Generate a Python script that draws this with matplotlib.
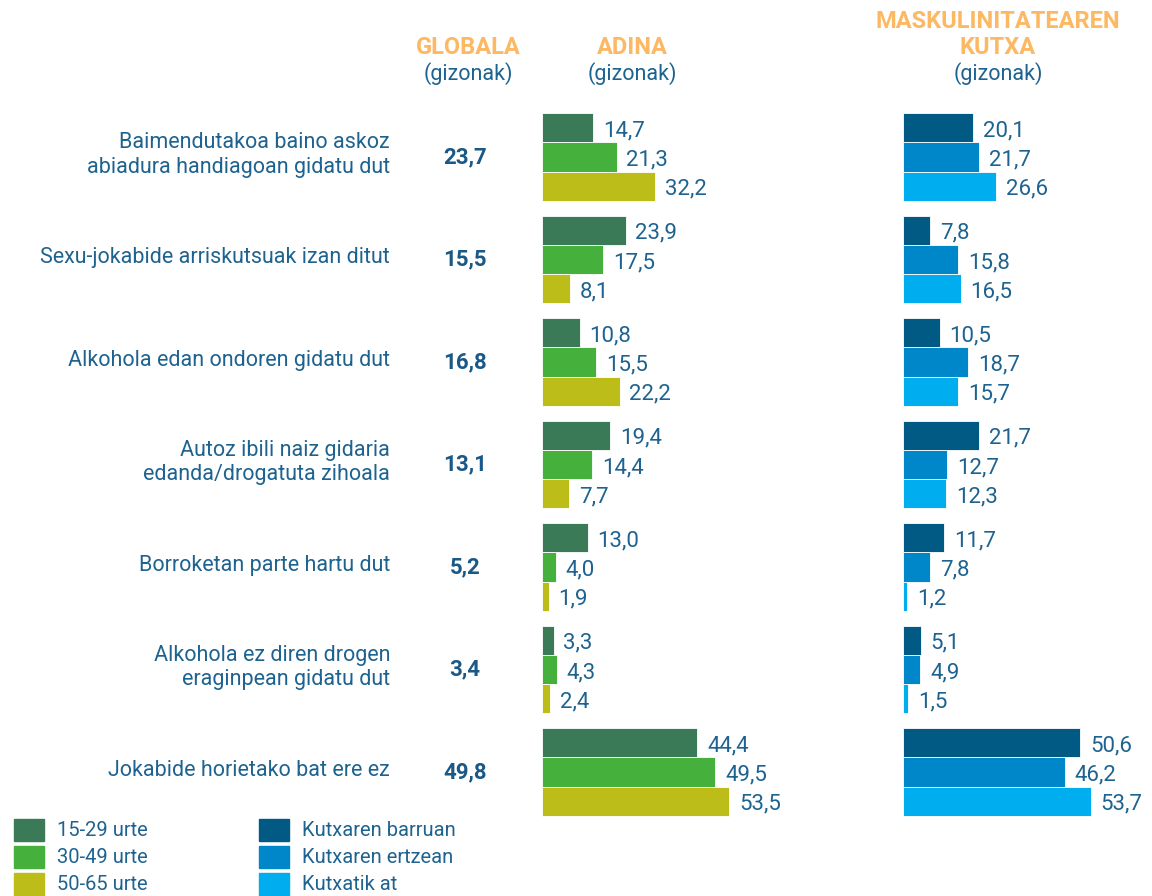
import matplotlib
matplotlib.use("Agg")
import matplotlib.pyplot as plt
from matplotlib.patches import Rectangle

categories = [
    "Baimendutakoa baino askoz\nabiadura handiagoan gidatu dut",
    "Sexu-jokabide arriskutsuak izan ditut",
    "Alkohola edan ondoren gidatu dut",
    "Autoz ibili naiz gidaria\nedanda/drogatuta zihoala",
    "Borroketan parte hartu dut",
    "Alkohola ez diren drogen\neraginpean gidatu dut",
    "Jokabide horietako bat ere ez",
]
globala = [23.7, 15.5, 16.8, 13.1, 5.2, 3.4, 49.8]

age_labels = ["15-29 urte", "30-49 urte", "50-65 urte"]
age_15_29 = [14.7, 23.9, 10.8, 19.4, 13.0, 3.3, 44.4]
age_30_49 = [21.3, 17.5, 15.5, 14.4, 4.0, 4.3, 49.5]
age_50_65 = [32.2, 8.1, 22.2, 7.7, 1.9, 2.4, 53.5]

box_labels = ["Kutxaren barruan", "Kutxaren ertzean", "Kutxatik at"]
box_in = [20.1, 7.8, 10.5, 21.7, 11.7, 5.1, 50.6]
box_edge = [21.7, 15.8, 18.7, 12.7, 7.8, 4.9, 46.2]
box_out = [26.6, 16.5, 15.7, 12.3, 1.2, 1.5, 53.7]

age_colors = ["#3B7A57", "#45B03C", "#BDBD19"]
box_colors = ["#005A84", "#0087C9", "#00AEEF"]
text_color = "#1E6390"
bold_color = "#1A5886"
head_color = "#FDB863"

FONT = ["Roboto", "DejaVu Sans"]
plt.rcParams["font.family"] = FONT

W, H = 1152, 896
fig = plt.figure(figsize=(W / 100, H / 100), dpi=100)

def fx(px):
    return px / W

def fy(py):
    return 1 - py / H

# axes geometry in pixels
top_px, bot_px = 105, 825
c0, pitch = 157, 102.5
ylim = ((bot_px - c0) / pitch, (top_px - c0) / pitch)
px_per_unit = 3.5
xmax = 60

def make_axes(left_px):
    ax = fig.add_axes([fx(left_px), fy(bot_px), fx(px_per_unit * xmax), (bot_px - top_px) / H])
    ax.set_xlim(0, xmax)
    ax.set_ylim(*ylim)
    ax.axis("off")
    return ax

bh = 0.285
offsets = [-bh, 0, bh]

def draw_panel(ax, series, colors):
    for s, col, off in zip(series, colors, offsets):
        y = [i + off for i in range(len(categories))]
        ax.barh(y, s, height=bh, color=col, edgecolor="white", linewidth=0.6)
        for yi, v in zip(y, s):
            ax.text(v + 2.8, yi + 0.03, f"{v:.1f}".replace(".", ","), va="center", ha="left",
                    fontsize=16, color=text_color, clip_on=False)

ax1 = make_axes(542)
draw_panel(ax1, [age_15_29, age_30_49, age_50_65], age_colors)
ax2 = make_axes(903)
draw_panel(ax2, [box_in, box_edge, box_out], box_colors)

# category labels and global values
for i, (cat, g) in enumerate(zip(categories, globala)):
    ycen = c0 + pitch * i - 2
    fig.text(fx(390), fy(ycen), cat, ha="right", va="center", fontsize=15.5,
             color=text_color, linespacing=1.22)
    fig.text(fx(465), fy(ycen + 2), f"{g:.1f}".replace(".", ","), ha="center", va="center",
             fontsize=16, fontweight="bold", color=bold_color)

# headers
def header(xp, lines_bold, sub):
    for t, yp in lines_bold:
        fig.text(fx(xp), fy(yp), t, ha="center", va="center", fontsize=17,
                 fontweight="bold", color=head_color)
    fig.text(fx(xp), fy(74), sub, ha="center", va="center", fontsize=15.5,
             color=text_color)

header(468, [("GLOBALA", 48)], "(gizonak)")
header(632, [("ADINA", 48)], "(gizonak)")
header(998, [("MASKULINITATEAREN", 21), ("KUTXA", 48)], "(gizonak)")

# legend
rows = [830, 857, 884]
for (sx, tx, labels, cols) in [(14, 57, age_labels, age_colors), (259, 302, box_labels, box_colors)]:
    for yp, lab, col in zip(rows, labels, cols):
        fig.patches.append(Rectangle((fx(sx), fy(yp + 11)), fx(30), 22 / H,
                                     transform=fig.transFigure, color=col))
        fig.text(fx(tx), fy(yp), lab, ha="left", va="center", fontsize=14.5, color=text_color)

fig.savefig("out.png", dpi=100)
